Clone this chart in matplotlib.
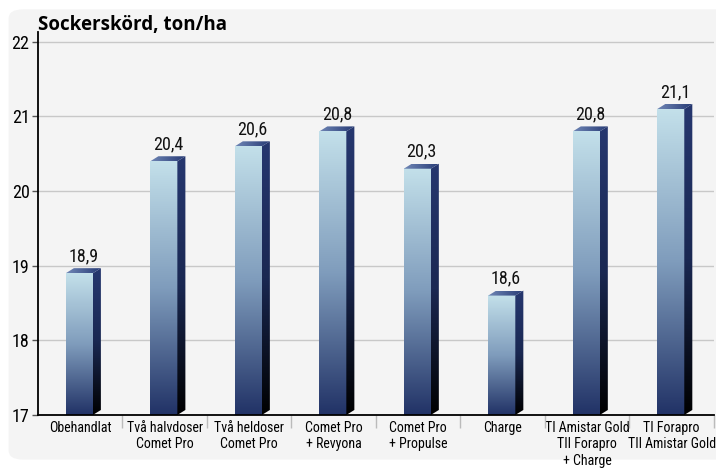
import numpy as np
import matplotlib
matplotlib.use("Agg")
import matplotlib.pyplot as plt
from matplotlib import font_manager
from matplotlib.colors import LinearSegmentedColormap
from matplotlib.patches import FancyBboxPatch, Polygon

# data
categories = ["Obehandlat", "Två halvdoser\nComet Pro", "Två heldoser\nComet Pro",
              "Comet Pro\n+ Revyona", "Comet Pro\n+ Propulse", "Charge",
              "TI Amistar Gold\nTII Forapro\n+ Charge", "TI Forapro\nTII Amistar Gold"]
values = [18.9, 20.4, 20.6, 20.8, 20.3, 18.6, 20.8, 21.1]
yticks = [17, 18, 19, 20, 21, 22]
title = "Sockerskörd, ton/ha"

# pick a narrow font if one is there
names = {f.name for f in font_manager.fontManager.ttflist}
narrow = "DejaVu Sans"
for cand in ["Liberation Sans Narrow", "Roboto Condensed", "Open Sans Condensed"]:
    if cand in names:
        narrow = cand
        break
plt.rcParams["font.family"] = [narrow, "DejaVu Sans"]
plt.rcParams["font.stretch"] = "condensed"

front_cm = LinearSegmentedColormap.from_list("front", ["#c3e0ea", "#7f9cbc", "#213266"])
side_cm = LinearSegmentedColormap.from_list("side", ["#26376f", "#1a2852", "#000000"])
top_cm = LinearSegmentedColormap.from_list("top", ["#6f86b5", "#263a75"])

fig = plt.figure(figsize=(7.16, 4.68), dpi=100)
fig.patch.set_facecolor("white")
bg = FancyBboxPatch((0.012, 0.018), 1.1, 0.962, boxstyle="round,pad=0,rounding_size=0.02",
                    transform=fig.transFigure, facecolor="#f4f4f4", edgecolor="none", zorder=-5)
fig.patches.append(bg)
ax = fig.add_axes([0.053, 0.1133, 0.944, 0.818])
ax.set_facecolor("none")

bottom = yticks[0]
w0, w1 = -0.17, 0.15   # front face relative to category centre
dx, dy = 0.095, 0.067  # depth
grad = np.linspace(0, 1, 256).reshape(-1, 1)

for i, v in enumerate(values):
    x0, x1 = i + w0, i + w1
    ax.imshow(grad, extent=(x0, x1, bottom, v), origin="upper", aspect="auto", cmap=front_cm, zorder=3)
    # side face
    side = Polygon([(x1, bottom), (x1 + dx, bottom + dy), (x1 + dx, v + dy), (x1, v)],
                   closed=True, facecolor="none", edgecolor="none")
    ax.add_patch(side)
    im = ax.imshow(grad, extent=(x1, x1 + dx, bottom, v + dy), origin="upper", aspect="auto",
                   cmap=side_cm, zorder=3)
    im.set_clip_path(side)
    # top face
    top = Polygon([(x0, v), (x1, v), (x1 + dx, v + dy), (x0 + dx, v + dy)], closed=True,
                  facecolor="none", edgecolor="none")
    ax.add_patch(top)
    imt = ax.imshow(np.linspace(0, 1, 64).reshape(1, -1), extent=(x0, x1 + dx, v, v + dy),
                    aspect="auto", cmap=top_cm, zorder=3)
    imt.set_clip_path(top)
    ax.text(i + (w0 + w1 + dx) / 2, v + dy + 0.04, f"{v:.1f}".replace(".", ","),
            ha="center", va="bottom", fontsize=13, color="#111111", zorder=4)

ax.set_xlim(-0.5, len(values) - 0.5)
ax.set_ylim(bottom, 22.13)
ax.set_yticks(yticks)
ax.set_yticklabels([str(t) for t in yticks], fontsize=13)
ax.yaxis.grid(True, color="#c8c8c8", linewidth=1)
ax.set_axisbelow(True)
ax.tick_params(axis="y", length=4, width=1, color="#555555", pad=2)

ax.set_xticks(range(len(categories)))
ax.set_xticklabels(categories, fontsize=10, linespacing=1.25)
ax.tick_params(axis="x", length=0, pad=4)
ax.set_xticks(np.arange(0.5, len(categories) - 0.4, 1), minor=True)
ax.tick_params(axis="x", which="minor", length=9, color="#bbbbbb", width=1)

for s in ["top", "right"]:
    ax.spines[s].set_visible(False)
ax.spines["left"].set_color("black")
ax.spines["bottom"].set_color("black")
ax.spines["left"].set_linewidth(1.3)
ax.spines["bottom"].set_linewidth(1.3)
ax.spines["bottom"].set_zorder(5)

fig.text(0.053, 0.946, title, fontsize=13.5, fontweight="bold", family=["Open Sans", "DejaVu Sans"],
         stretch="normal", ha="left", va="center")

fig.savefig("out.png", dpi=100)
